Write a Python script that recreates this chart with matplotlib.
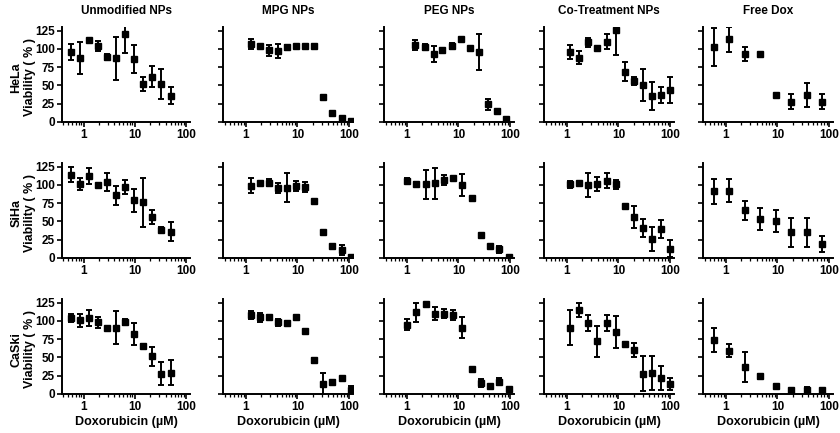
import matplotlib
matplotlib.use("Agg")
import matplotlib.pyplot as plt
from matplotlib.ticker import LogLocator, NullFormatter, FixedLocator, FixedFormatter

plt.rcParams['font.family'] = ['Liberation Sans', 'DejaVu Sans']
plt.rcParams['font.weight'] = 'bold'

# ---------------- data ----------------
titles = ["Unmodified NPs", "MPG NPs", "PEG NPs", "Co-Treatment NPs", "Free Dox"]
cell_lines = ["HeLa", "SiHa", "CaSki"]
y_ticks = [0, 25, 50, 75, 100, 125]
x_ticks = [1, 10, 100]
x_tick_labels = ["1", "10", "100"]

unmod_conc = [0.58, 0.87, 1.3, 1.95, 2.93, 4.39, 6.58, 9.88, 14.8, 22.2, 33.3, 50.0]
mpg_conc = [1.25, 1.87, 2.8, 4.2, 6.3, 9.5, 14.2, 21.3, 32.0, 48.0, 72.0, 108.0]
peg_conc_hela = [1.46, 2.2, 3.3, 4.9, 7.4, 11.1, 16.7, 25.0, 37.5, 56.0, 84.0]
peg_conc = [1.02, 1.53, 2.3, 3.5, 5.3, 8.0, 12.0, 18.2, 27.5, 41.5, 62.5, 94.0]
cot_conc = [1.16, 1.75, 2.6, 3.9, 5.9, 8.9, 13.3, 20.0, 30.0, 45.0, 68.0, 102.0]
dox_conc = [0.586, 1.17, 2.34, 4.69, 9.38, 18.75, 37.5, 75.0]

# HeLa
hela_unmod_mean = [96, 88, 112, 104, 89, 87, 121, 86, 52, 62, 52, 36]
hela_unmod_sd = [11, 22, 2, 7, 4, 29, 26, 19, 10, 14, 21, 12]
hela_mpg_mean = [107, 104, 98, 97, 102, 104, 104, 104, 34, 12, 5, 1]
hela_mpg_sd = [7, 1, 8, 10, 3, 1, 1, 1, 1, 1, 1, 1]
hela_peg_mean = [105, 103, 93, 98, 104, 113, 101, 96, 24, 15, 4]
hela_peg_sd = [7, 4, 11, 1, 4, 1, 1, 25, 7, 1, 2]
hela_cot_mean = [96, 88, 109, 101, 110, 126, 69, 56, 51, 36, 37, 44]
hela_cot_sd = [10, 9, 6, 1, 10, 34, 13, 5, 22, 19, 11, 18]
hela_dox_mean = [102, 113, 93, 93, 37, 28, 37, 28]
hela_dox_sd = [26, 17, 9, 1, 2, 10, 16, 10]

# SiHa
siha_unmod_mean = [114, 101, 112, 100, 104, 86, 97, 79, 76, 56, 39, 36]
siha_unmod_sd = [10, 8, 11, 1, 12, 13, 10, 16, 34, 10, 4, 13]
siha_mpg_mean = [99, 103, 103, 96, 96, 99, 97, 78, 36, 16, 11, 1]
siha_mpg_sd = [10, 1, 5, 7, 20, 7, 7, 1, 1, 1, 7, 1]
siha_peg_mean = [106, 101, 101, 102, 107, 110, 100, 82, 32, 17, 12, 2]
siha_peg_sd = [3, 3, 20, 21, 7, 1, 15, 1, 1, 1, 5, 1]
siha_cot_mean = [101, 103, 100, 101, 106, 101, 71, 56, 41, 26, 40, 13]
siha_cot_sd = [5, 1, 16, 10, 10, 6, 2, 15, 12, 16, 12, 11]
siha_dox_mean = [91, 92, 65, 53, 51, 35, 35, 19]
siha_dox_sd = [17, 16, 13, 15, 15, 20, 20, 11]

# CaSki
caski_unmod_mean = [104, 101, 104, 98, 90, 91, 98, 82, 66, 52, 28, 29]
caski_unmod_sd = [6, 9, 11, 7, 1, 22, 4, 15, 2, 13, 16, 17]
caski_mpg_mean = [108, 105, 105, 98, 97, 105, 86, 46, 14, 16, 22, 6]
caski_mpg_sd = [6, 6, 3, 5, 1, 1, 1, 3, 15, 1, 1, 5]
caski_peg_mean = [95, 112, 123, 110, 110, 108, 91, 34, 15, 11, 17, 7]
caski_peg_sd = [7, 13, 1, 9, 6, 7, 14, 1, 5, 1, 5, 1]
caski_cot_mean = [91, 115, 97, 72, 97, 85, 69, 60, 28, 29, 22, 14]
caski_cot_sd = [24, 10, 11, 21, 11, 22, 2, 10, 24, 23, 17, 8]
caski_dox_mean = [74, 59, 37, 24, 11, 6, 5, 5]
caski_dox_sd = [17, 9, 20, 3, 1, 1, 4, 1]

panels = [
    [(unmod_conc, hela_unmod_mean, hela_unmod_sd),
     (mpg_conc, hela_mpg_mean, hela_mpg_sd),
     (peg_conc_hela, hela_peg_mean, hela_peg_sd),
     (cot_conc, hela_cot_mean, hela_cot_sd),
     (dox_conc, hela_dox_mean, hela_dox_sd)],
    [(unmod_conc, siha_unmod_mean, siha_unmod_sd),
     (mpg_conc, siha_mpg_mean, siha_mpg_sd),
     (peg_conc, siha_peg_mean, siha_peg_sd),
     (cot_conc, siha_cot_mean, siha_cot_sd),
     (dox_conc, siha_dox_mean, siha_dox_sd)],
    [(unmod_conc, caski_unmod_mean, caski_unmod_sd),
     (mpg_conc, caski_mpg_mean, caski_mpg_sd),
     (peg_conc, caski_peg_mean, caski_peg_sd),
     (cot_conc, caski_cot_mean, caski_cot_sd),
     (dox_conc, caski_dox_mean, caski_dox_sd)],
]

# ---------------- layout ----------------
W, H = 840, 433
col_left = [62, 223, 384, 544, 703]
col_width = [128, 130, 130, 130, 130]
col_xmin = [0.38, 0.36, 0.36, 0.36, 0.36]
row_top = [27, 163, 299]
row_bottom = [122, 258, 394]

fig = plt.figure(figsize=(W / 100, H / 100), dpi=100)
fig.patch.set_facecolor('white')

for r in range(3):
    for c in range(5):
        ax = fig.add_axes([col_left[c] / W, 1 - row_bottom[r] / H,
                           col_width[c] / W, (row_bottom[r] - row_top[r]) / H])
        x, m, s = panels[r][c]
        ax.errorbar(x, m, yerr=s, fmt='s', color='black', ms=4.5,
                    elinewidth=1.4, capsize=2.0, capthick=1.4)
        ax.set_xscale('log')
        ax.set_xlim(col_xmin[c], 120)
        ax.set_ylim(0, 130)
        ax.spines['top'].set_visible(False)
        ax.spines['right'].set_visible(False)
        for sp in ('left', 'bottom'):
            ax.spines[sp].set_linewidth(1.4)
        ax.xaxis.set_major_locator(FixedLocator(x_ticks))
        ax.xaxis.set_major_formatter(FixedFormatter(x_tick_labels))
        ax.xaxis.set_minor_locator(LogLocator(base=10, subs=[2, 3, 4, 5, 6, 7, 8, 9]))
        ax.xaxis.set_minor_formatter(NullFormatter())
        ax.set_yticks(y_ticks)
        ax.tick_params(axis='both', which='major', direction='out', length=3.5,
                       width=1.2, labelsize=8.5, pad=1.5)
        ax.tick_params(axis='x', which='minor', direction='out', length=2,
                       width=0.9)
        for lab in ax.get_xticklabels() + ax.get_yticklabels():
            lab.set_fontweight('bold')
        if c == 0:
            ax.set_ylabel(cell_lines[r] + "\nViability ( % )", fontsize=9,
                          fontweight='bold', linespacing=1.2)
            ax.yaxis.set_label_coords(-0.2, 0.47)
        else:
            ax.set_yticklabels([])
        if r == 0:
            ax.set_title(titles[c], fontsize=8.5, fontweight='bold', pad=9)
        if r == 2:
            ax.set_xlabel("Doxorubicin (\u00b5M)", fontsize=9, fontweight='bold',
                          labelpad=2)

fig.savefig("out.png", dpi=100, facecolor='white')
